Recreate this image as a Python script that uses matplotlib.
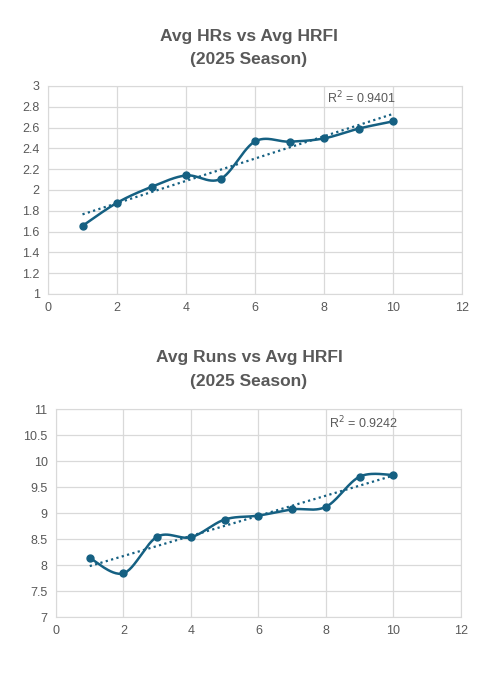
import numpy as np
import matplotlib
matplotlib.use("Agg")
import matplotlib.pyplot as plt

plt.rcParams['font.family'] = ['Liberation Sans', 'DejaVu Sans']

hrfi = [1, 2, 3, 4, 5, 6, 7, 8, 9, 10]
avg_hrs = [1.655, 1.877, 2.03, 2.14, 2.106, 2.467, 2.465, 2.496, 2.59, 2.66]
avg_runs = [8.135, 7.84, 8.545, 8.535, 8.875, 8.95, 9.07, 9.12, 9.70, 9.73]
r2_hrs = "R$^2$ = 0.9401"
r2_runs = "R$^2$ = 0.9242"

LINE = '#156082'
TEXT = '#595959'
GRID = '#d9d9d9'


def smooth(x, y, n=30):
    # Excel style smoothed line: cubic bezier with catmull-rom control points
    x = np.asarray(x, float)
    y = np.asarray(y, float)
    px = np.concatenate([[x[0]], x, [x[-1]]])
    py = np.concatenate([[y[0]], y, [y[-1]]])
    xs, ys = [], []
    t = np.linspace(0, 1, n)
    for i in range(1, len(px) - 2):
        p0 = np.array([px[i], py[i]])
        p3 = np.array([px[i + 1], py[i + 1]])
        p1 = p0 + (np.array([px[i + 1], py[i + 1]]) - np.array([px[i - 1], py[i - 1]])) / 6
        p2 = p3 - (np.array([px[i + 2], py[i + 2]]) - np.array([px[i], py[i]])) / 6
        b = ((1 - t) ** 3)[:, None] * p0 + (3 * (1 - t) ** 2 * t)[:, None] * p1 \
            + (3 * (1 - t) * t ** 2)[:, None] * p2 + (t ** 3)[:, None] * p3
        xs.extend(b[:, 0])
        ys.extend(b[:, 1])
    return xs, ys


def draw(ax, x, y, ylim, ystep, r2, r2_pos):
    ax.set_xlim(0, 12)
    ax.set_ylim(*ylim)
    ax.set_xticks(np.arange(0, 13, 2))
    ax.set_yticks(np.arange(ylim[0], ylim[1] + ystep / 2, ystep))
    ax.yaxis.set_major_formatter(matplotlib.ticker.FuncFormatter(lambda v, p: "%g" % round(v, 2)))
    ax.grid(True, color=GRID, linewidth=0.9)
    ax.set_axisbelow(True)
    for s in ax.spines.values():
        s.set_color(GRID)
    ax.tick_params(length=0, colors=TEXT, labelsize=9, pad=6)

    sx, sy = smooth(x, y)
    ax.plot(sx, sy, color=LINE, linewidth=1.8, zorder=3)
    ax.plot(x, y, 'o', color=LINE, markersize=5, zorder=4)

    coef = np.polyfit(x, y, 1)
    fx = np.array([x[0], x[-1]])
    ax.plot(fx, np.polyval(coef, fx), color=LINE, linewidth=1.6,
            linestyle=(0, (1, 1.5)), zorder=3)
    ax.text(r2_pos[0], r2_pos[1], r2, transform=ax.transAxes, color=TEXT,
            fontsize=9, va='center', ha='left')


fig = plt.figure(figsize=(5.02, 6.74), dpi=100)
W, H = 502, 674

ax1 = fig.add_axes([48 / W, (H - 294) / H, (462 - 48) / W, (294 - 86) / H])
draw(ax1, hrfi, avg_hrs, (1, 3), 0.2, r2_hrs, (0.674, 0.942))
fig.text(249 / W, 1 - 48 / H, "Avg HRs vs Avg HRFI\n(2025 Season)", ha='center',
         va='center', fontsize=12.5, fontweight='bold', color=TEXT, linespacing=1.7)

ax2 = fig.add_axes([56 / W, (H - 617) / H, (461 - 56) / W, (617 - 409) / H])
draw(ax2, hrfi, avg_runs, (7, 11), 0.5, r2_runs, (0.674, 0.933))
fig.text(249 / W, 1 - 369.5 / H, "Avg Runs vs Avg HRFI\n(2025 Season)", ha='center',
         va='center', fontsize=12.5, fontweight='bold', color=TEXT, linespacing=1.7)

fig.savefig("out.png", dpi=100, facecolor='white')
